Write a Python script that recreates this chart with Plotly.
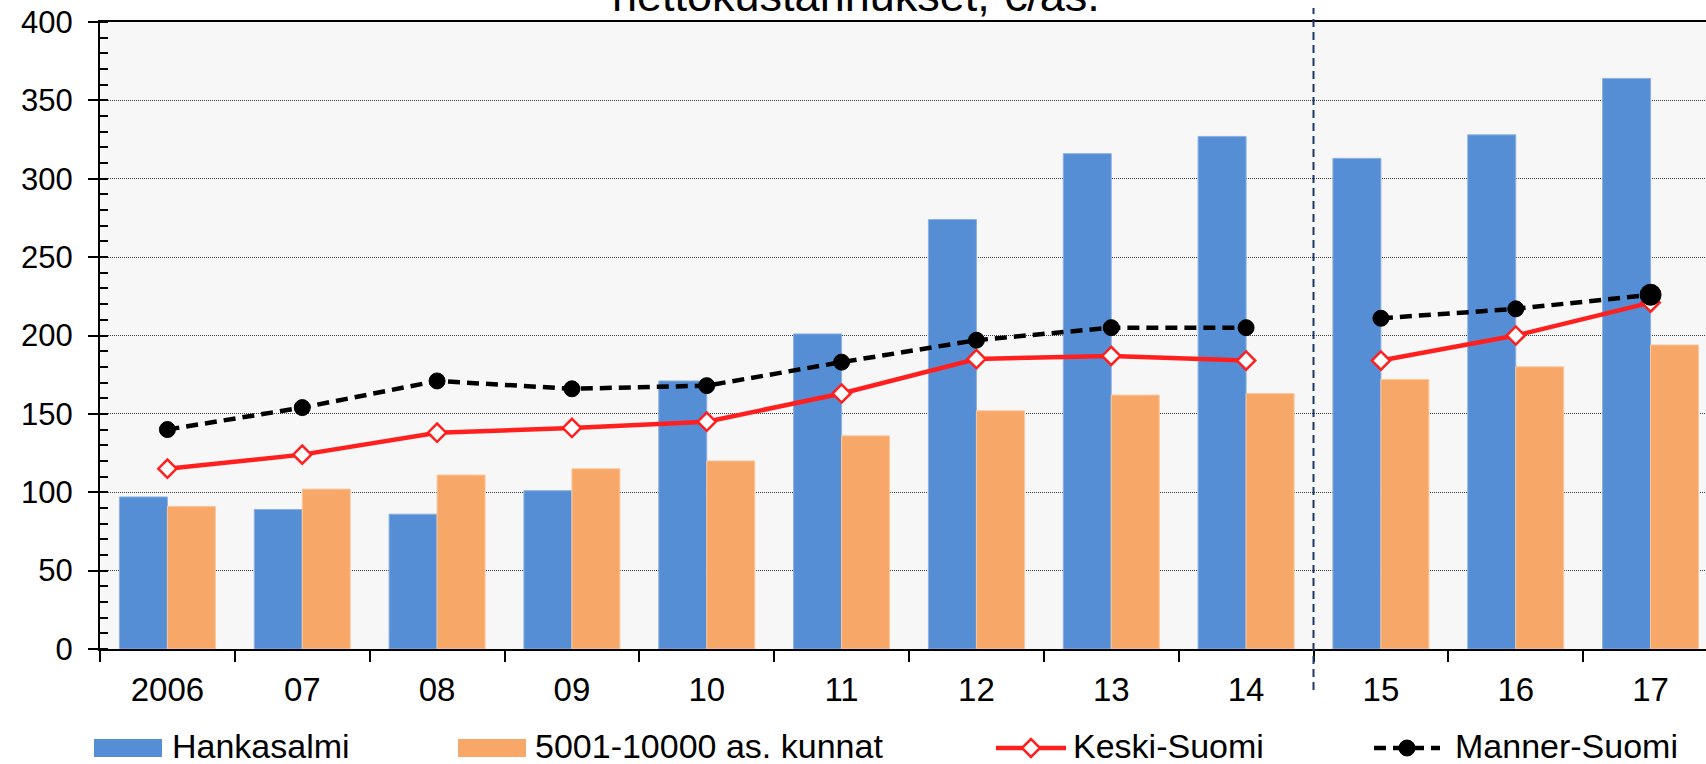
import plotly.graph_objects as go

years = ["2006", "07", "08", "09", "10", "11", "12", "13", "14", "15", "16", "17"]
hankasalmi = [97, 89, 86, 101, 171, 201, 274, 316, 327, 313, 328, 364]
kunnat_5001_10000 = [91, 102, 111, 115, 120, 136, 152, 162, 163, 172, 180, 194]
keski_suomi = [115, 124, 138, 141, 145, 163, 185, 187, 184, 184, 200, 221]
manner_suomi = [140, 154, 171, 166, 168, 183, 197, 205, 205, 211, 217, 226]
split = 9  # lines break between 14 and 15

names = ["Hankasalmi", "5001-10000 as. kunnat", "Keski-Suomi", "Manner-Suomi"]
title_text = "nettokustannukset, €/as."

FONT = "Liberation Sans, Arial, sans-serif"
BLUE = "#558ED5"
ORANGE = "#F7A767"
RED = "#FF1F1F"

# plot area in pixels (it runs a bit past the right edge of the page, as in the original)
W, H = 1706, 764
L, T, PW, PH = 100, 22, 1606, 627


def px_x(x):
    return (x - L) / PW


def px_y(y):
    return (T + PH - y) / PH


fig = go.Figure()

fig.add_trace(go.Bar(x=years, y=hankasalmi, name=names[0], marker_color=BLUE,
                     marker_line=dict(color="#8DB0E0", width=1), showlegend=False))
fig.add_trace(go.Bar(x=years, y=kunnat_5001_10000, name=names[1], marker_color=ORANGE,
                     marker_line=dict(color="#FAC9A0", width=1), showlegend=False))

for part in (slice(0, split), slice(split, None)):
    fig.add_trace(go.Scatter(
        x=years[part], y=keski_suomi[part], name=names[2], mode="lines+markers",
        line=dict(color=RED, width=4.5),
        marker=dict(symbol="diamond", size=14, color="white", opacity=1,
                    line=dict(color=RED, width=2.5)),
        showlegend=False))

for part in (slice(0, split), slice(split, None)):
    xs = years[part]
    sizes = [16] * len(xs)
    if part.stop is None:
        sizes[-1] = 21
    fig.add_trace(go.Scatter(
        x=xs, y=manner_suomi[part], name=names[3], mode="lines+markers",
        line=dict(color="black", width=4.5, dash="12px,7px"),
        marker=dict(symbol="circle", size=sizes, color="#000000", opacity=1,
                    line=dict(color="#000000", width=1)),
        showlegend=False))

shapes = [
    # divider between 14 and 15
    dict(type="line", xref="x", yref="paper", x0=split - 0.5, x1=split - 0.5,
         y0=px_y(690), y1=px_y(8), line=dict(color="#1F3864", width=2, dash="8px,5px")),
    # legend swatches
    dict(type="rect", xref="paper", yref="paper", x0=px_x(94), x1=px_x(162),
         y0=px_y(757), y1=px_y(739), fillcolor=BLUE, line=dict(width=0)),
    dict(type="rect", xref="paper", yref="paper", x0=px_x(458), x1=px_x(526),
         y0=px_y(757), y1=px_y(739), fillcolor=ORANGE, line=dict(width=0)),
    dict(type="line", xref="paper", yref="paper", x0=px_x(996), x1=px_x(1066),
         y0=px_y(748), y1=px_y(748), line=dict(color=RED, width=4.5)),
    dict(type="path", xref="paper", yref="paper",
         path="M {a},{m} L {b},{t} L {c},{m} L {b},{u} Z".format(
             a=px_x(1022), b=px_x(1031), c=px_x(1040), m=px_y(748), t=px_y(739), u=px_y(757)),
         fillcolor="white", line=dict(color=RED, width=2.5)),
    dict(type="line", xref="paper", yref="paper", x0=px_x(1374), x1=px_x(1440),
         y0=px_y(748), y1=px_y(748), line=dict(color="black", width=4.5, dash="12px,7px")),
    dict(type="circle", xref="paper", yref="paper", x0=px_x(1399), x1=px_x(1415),
         y0=px_y(756), y1=px_y(740), fillcolor="black", line=dict(color="black", width=1)),
]

annotations = [
    dict(text=title_text, xref="paper", yref="paper", x=px_x(856), y=px_y(23.5),
         xanchor="center", yanchor="bottom", showarrow=False,
         font=dict(family=FONT, size=45, color="black")),
]
for label, x0 in zip(names, [170, 533, 1071, 1453]):
    annotations.append(dict(text=label, xref="paper", yref="paper", x=px_x(x0), y=px_y(745.5),
                            xanchor="left", yanchor="middle", showarrow=False,
                            font=dict(family=FONT, size=34, color="black")))

fig.update_layout(
    width=W, height=H,
    margin=dict(l=L, r=W - L - PW, t=T, b=H - T - PH, pad=0),
    paper_bgcolor="white", plot_bgcolor="#F7F7F7",
    barmode="group", bargap=0.288, bargroupgap=0,
    font=dict(family=FONT, color="black"),
    shapes=shapes, annotations=annotations,
    showlegend=False,
)
fig.update_xaxes(
    type="category", range=[-0.5, 11.5 - 12 / 134.8], tickson="boundaries",
    ticks="outside", ticklen=11, tickwidth=1.5, tickcolor="black",
    showline=True, linecolor="black", linewidth=2, mirror=True,
    showgrid=False, tickfont=dict(size=33), ticklabelstandoff=10,
)
fig.update_yaxes(
    range=[0, 400], dtick=50, ticks="outside", ticklen=10, tickwidth=1.5, tickcolor="black",
    minor=dict(dtick=10, ticks="inside", ticklen=8, tickcolor="black", tickwidth=1.5, showgrid=False),
    showline=True, linecolor="black", linewidth=2,
    showgrid=True, gridcolor="#404040", gridwidth=1, griddash="1px,1px",
    zeroline=False, tickfont=dict(size=31), ticklabelstandoff=9,
)

# the page's default body margin would push the chart 8px down and right
fig.write_html("out.html", config={"displayModeBar": False},
               post_script="document.body.style.margin = '0';")
